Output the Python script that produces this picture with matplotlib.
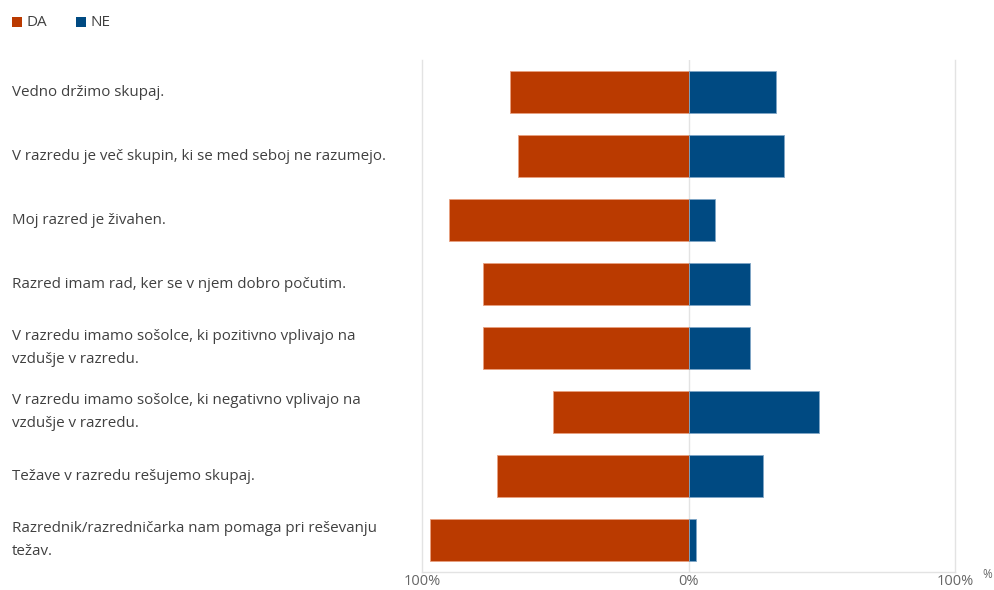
import matplotlib
matplotlib.use("Agg")
import matplotlib.pyplot as plt
import matplotlib.transforms as mtrans
from matplotlib.patches import Rectangle

categories = [
    "Vedno držimo skupaj.",
    "V razredu je več skupin, ki se med seboj ne razumejo.",
    "Moj razred je živahen.",
    "Razred imam rad, ker se v njem dobro počutim.",
    "V razredu imamo sošolce, ki pozitivno vplivajo na\nvzdušje v razredu.",
    "V razredu imamo sošolce, ki negativno vplivajo na\nvzdušje v razredu.",
    "Težave v razredu rešujemo skupaj.",
    "Razrednik/razredničarka nam pomaga pri reševanju\ntežav.",
]
da = [67, 64, 90, 77, 77, 51, 72, 97]
ne = [33, 36, 10, 23, 23, 49, 28, 3]
series_names = ["DA", "NE"]
tick_values = [-100, 0, 100]
tick_labels = ["100%", "0%", "100%"]

c_da = "#BA3A00"
c_ne = "#004A82"
txt = "#404040"
grid = "#E3E3E3"

plt.rcParams['font.family'] = ['Open Sans', 'DejaVu Sans']

W, H = 994, 590
fig = plt.figure(figsize=(W/100, H/100), dpi=100)
ax = fig.add_axes([422/W, 1 - 572/H, (955-422)/W, (572-60)/H])

y = list(range(len(categories)))
ax.barh(y, [-v for v in da], height=0.66, color=c_da, edgecolor="#E8A080", linewidth=0.6)
ax.barh(y, ne, height=0.66, color=c_ne, edgecolor="#7FA6C6", linewidth=0.6)

ax.set_xlim(-100, 100)
ax.set_ylim(len(categories) - 0.5, -0.5)
ax.axvline(0, color=grid, lw=1, zorder=0)
ax.set_xticks(tick_values)
ax.set_xticklabels(tick_labels, color="#666666", fontsize=10.5)
ax.tick_params(axis='x', length=0, pad=1.5)
ax.set_yticks([])
for s in ["left", "right", "bottom"]:
    ax.spines[s].set_color(grid)
    ax.spines[s].set_linewidth(1)
ax.spines["top"].set_visible(False)

trans = mtrans.blended_transform_factory(fig.transFigure, ax.transData)
for i, lab in enumerate(categories):
    ax.text(12/W, i, lab, transform=trans, ha="left", va="center",
            fontsize=10.9, color=txt, linespacing=1.75, clip_on=False)

fig.text(982/W, 1 - 575/H, "%", fontsize=8.5, color="#666666", ha="left", va="center")

# legend
for x0, name, col in [(12, series_names[0], c_da), (76, series_names[1], c_ne)]:
    fig.patches.append(Rectangle((x0/W, 1 - 27/H), 10/W, 10/H, transform=fig.transFigure,
                                 facecolor=col, edgecolor="none"))
    fig.text((x0 + 15)/W, 1 - 22/H, name, fontsize=11, color=txt, ha="left", va="center")

fig.savefig("out.png", dpi=100)
